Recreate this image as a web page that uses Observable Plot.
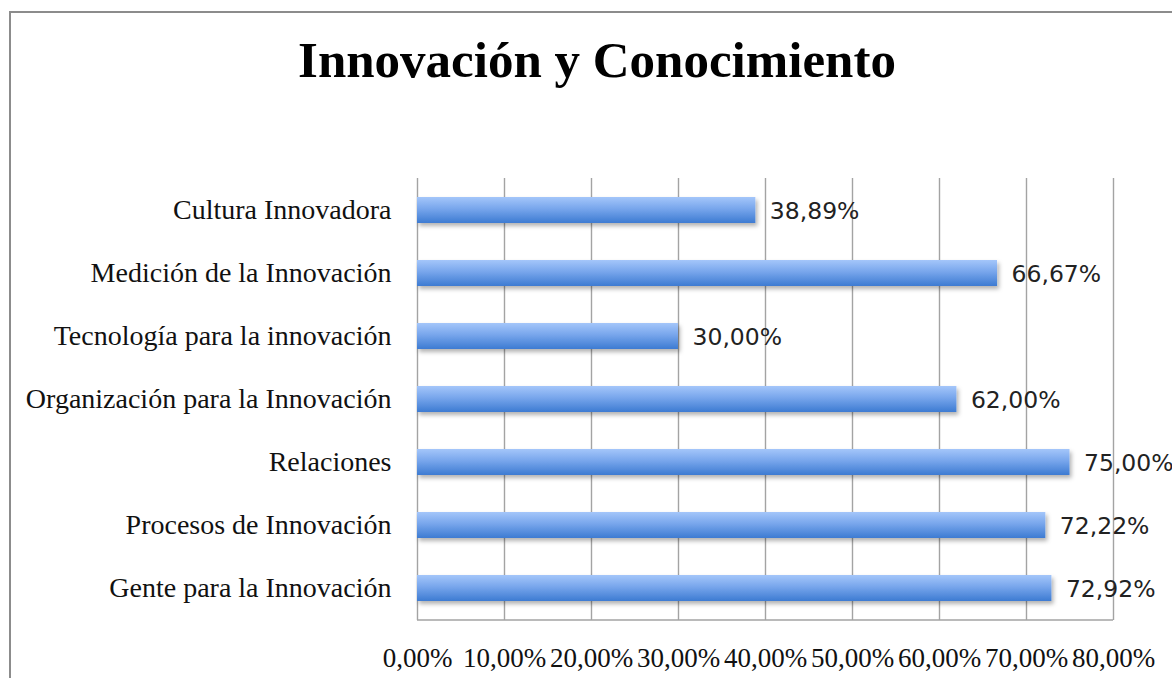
<!DOCTYPE html>
<html>
<head>
<meta charset="utf-8">
<script src="https://cdn.jsdelivr.net/npm/d3@7"></script>
<script src="https://cdn.jsdelivr.net/npm/@observablehq/plot@0.6"></script>
<style>
  html, body { margin: 0; padding: 0; background: #fff; overflow: hidden; width: 1172px; height: 678px; }
  #frame { position: absolute; left: 9px; top: 11px; width: 1300px; height: 800px; border-left: 2px solid #8c8c8c; border-top: 2px solid #8c8c8c; }
  #title { position: absolute; left: 0; top: 35px; width: 1194px; text-align: center; font-family: "Liberation Serif", serif; font-weight: bold; font-size: 51px; line-height: 51px; color: #000; }
  #chart { position: absolute; left: 0; top: 120px; }
</style>
</head>
<body>
<div id="frame"></div>
<div id="title">Innovación y Conocimiento</div>
<div id="chart"></div>
<script>
const categories = [
  "Cultura Innovadora",
  "Medición de la Innovación",
  "Tecnología para la innovación",
  "Organización para la Innovación",
  "Relaciones",
  "Procesos de Innovación",
  "Gente para la Innovación"
];
const values = [38.89, 66.67, 30.00, 62.00, 75.00, 72.22, 72.92];
const xTicks = [0, 10, 20, 30, 40, 50, 60, 70, 80];

const data = categories.map((c, i) => ({name: c, value: values[i]}));
const fmt = d => d.toFixed(2).replace(".", ",") + "%";

const plot = Plot.plot({
  width: 1172,
  height: 558,
  marginLeft: 417,
  marginRight: 59,
  marginTop: 58,
  marginBottom: 58,
  style: {background: "transparent", color: "#111"},
  x: {domain: [0, 80], ticks: xTicks, tickFormat: fmt, label: null},
  y: {domain: categories, paddingInner: 0.59, paddingOuter: 0.295, label: null},
  marks: [
    Plot.gridX(xTicks, {stroke: "#a3a3a3", strokeOpacity: 1, strokeWidth: 1.4}),
    Plot.barX(data, {x: "value", y: "name", fill: "url(#barGrad)"}),
    Plot.text(data, {x: "value", y: "name", text: d => fmt(d.value), textAnchor: "start", dx: 14, dy: 1,
      fontSize: 23.5, fontFamily: "DejaVu Sans", fill: "#222"}),
    Plot.axisX({ticks: xTicks, tickFormat: fmt, tickSize: 0, tickPadding: 27, fontSize: 27, fontFamily: "Liberation Serif", fill: "#111", label: null}),
    Plot.axisY({tickSize: 0, tickPadding: 26, fontSize: 28, fontFamily: "Liberation Serif", fill: "#111", label: null})
  ]
});

const svg = d3.select(plot);
const defs = svg.insert("defs", ":first-child");
const g = defs.append("linearGradient").attr("id", "barGrad").attr("x1", 0).attr("y1", 0).attr("x2", 0).attr("y2", 1);
g.append("stop").attr("offset", "0%").attr("stop-color", "#a4c6fa");
g.append("stop").attr("offset", "45%").attr("stop-color", "#78a6ec");
g.append("stop").attr("offset", "100%").attr("stop-color", "#3d7bd2");
const f = defs.append("filter").attr("id", "barShadow").attr("x", "-5%").attr("y", "-20%").attr("width", "115%").attr("height", "160%");
f.append("feDropShadow").attr("dx", 2).attr("dy", 3).attr("stdDeviation", 2).attr("flood-color", "#000").attr("flood-opacity", 0.3);
svg.selectAll("rect").filter(function() { return this.getAttribute("fill") === "url(#barGrad)" || (this.parentNode && this.parentNode.getAttribute("fill") === "url(#barGrad)"); })
  .attr("filter", "url(#barShadow)");

// bottom axis line derived from scales
const xs = plot.scale("x"), ys = plot.scale("y");
const yBottom = Math.max(...ys.range);
svg.append("line")
  .attr("x1", Math.min(...xs.range)).attr("x2", Math.max(...xs.range))
  .attr("y1", yBottom).attr("y2", yBottom)
  .attr("stroke", "#a3a3a3").attr("stroke-width", 1.4);

document.getElementById("chart").appendChild(plot);
</script>
</body>
</html>
